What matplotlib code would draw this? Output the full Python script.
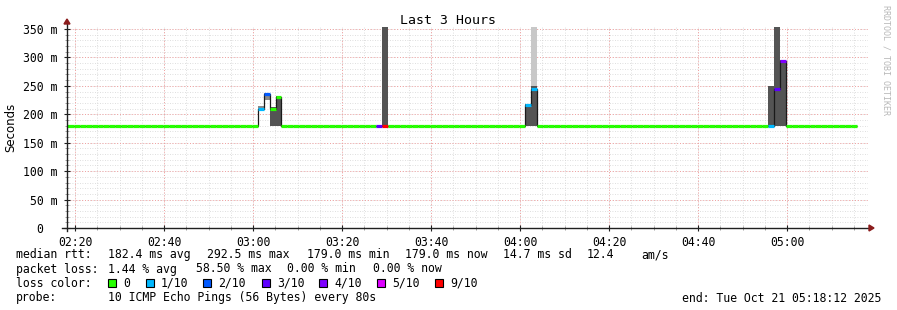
import matplotlib
matplotlib.use("Agg")
import matplotlib.pyplot as plt
from matplotlib.patches import Rectangle, Polygon
import numpy as np

W, H = 897, 310
STEP = 80 / 60.0  # one rrd step (80 s) in minutes
T0 = 0.2          # first step boundary, minutes after 02:18:12

# time axis: minutes after 02:18:12
tick_labels = ["02:20", "02:40", "03:00", "03:20", "03:40", "04:00", "04:20", "04:40", "05:00"]
tick_minutes = [1.8, 21.8, 41.8, 61.8, 81.8, 101.8, 121.8, 141.8, 161.8]

n_steps = 133
baseline_ms = 180.0

# steps where something happened (median rtt in ms, lost pings out of 10)
spike_steps = [32, 33, 34, 35, 52, 53, 77, 78, 118, 119, 120]
spike_median = [210, 235, 210, 231, 180, 180, 216, 245, 180, 245, 293]
spike_loss = [1, 2, 0, 0, 3, 9, 1, 1, 1, 3, 4]
# smoke (spread of the pings) per spike step
smoke_lo = [205, 225, 180, 180, 180, 180, 180, 180, 180, 180, 180]
smoke_hi = [214, 238, 212, 232, 180, 360, 218, 250, 250, 360, 296]
smoke_shade = [1, 1, 0, 0, 0, 0, 0, 0, 0, 0, 0]
# the few outlier pings drawn in light grey
outlier_steps = [78]
outlier_lo = [250]
outlier_hi = [360]

loss_names = ["0", "1/10", "2/10", "3/10", "4/10", "5/10", "9/10"]
loss_levels = [0, 1, 2, 3, 4, 5, 9]
loss_hex = ["#26ff00", "#00b8ff", "#0059ff", "#5e00ff", "#7e00ff", "#dd00ff", "#ff0000"]
loss_color = dict(zip(loss_levels, loss_hex))

median = np.full(n_steps, baseline_ms)
loss = np.zeros(n_steps, dtype=int)
median[spike_steps] = spike_median
loss[spike_steps] = spike_loss
edges = T0 + np.arange(n_steps + 1) * STEP
edges[0] = 0

MONO = "DejaVu Sans Mono"
FS = 8.3

fig = plt.figure(figsize=(W / 100, H / 100), dpi=100)
fig.patch.set_facecolor("white")

def fx(x):
    return x / W

def fy(y):
    return 1 - y / H

left, right, top, bottom = 67, 868, 27, 228
ax = fig.add_axes([fx(left), fy(bottom), (right - left) / W, (bottom - top) / H])
ax.set_xlim(0, 180)
ax.set_ylim(0, 353.5)

# grid
minor_x = np.arange(1.8, 180, 5)
for x in minor_x:
    ax.axvline(x, color="#d4d4d4", lw=0.6, ls=(0, (1, 2)), zorder=0)
for y in range(10, 360, 10):
    ax.axhline(y, color="#d4d4d4", lw=0.6, ls=(0, (1, 2)), zorder=0)
for x in tick_minutes:
    ax.axvline(x, color="#f2a0a0", lw=0.7, ls=(0, (1, 2)), zorder=0.5)
for y in range(50, 360, 50):
    ax.axhline(y, color="#f2a0a0", lw=0.7, ls=(0, (1, 2)), zorder=0.5)

# smoke
shade_col = ["#545454", "#8a8a8a"]
t_spike = T0 + np.array(spike_steps) * STEP
ax.bar(t_spike, np.array(smoke_hi) - np.array(smoke_lo), bottom=smoke_lo, width=STEP,
       align="edge", color=[shade_col[s] for s in smoke_shade], linewidth=0, zorder=2)
ax.bar(T0 + np.array(outlier_steps) * STEP, np.array(outlier_hi) - np.array(outlier_lo),
       bottom=outlier_lo, width=STEP, align="edge", color="#c8c8c8", linewidth=0, zorder=2)

# median line: thin black, then thick colored by loss
ax.stairs(median, edges, baseline=None, color="#1a1a1a", lw=0.9, zorder=3)
ax.hlines(median, edges[:-1], edges[1:], colors=[loss_color[l] for l in loss], lw=2.3, zorder=4)

# axes
for s in ax.spines.values():
    s.set_visible(False)
ax.plot([-0.006, 1.003], [0, 0], transform=ax.transAxes, color="#202020", lw=1, clip_on=False, zorder=5)
ax.plot([0, 0], [-0.015, 1.02], transform=ax.transAxes, color="#202020", lw=1, clip_on=False, zorder=5)
fig.add_artist(Polygon([[fx(64), fy(24)], [fx(70), fy(24)], [fx(67), fy(19)]], closed=True,
                       transform=fig.transFigure, color="#8b1c1c"))
fig.add_artist(Polygon([[fx(869), fy(225)], [fx(869), fy(231)], [fx(874), fy(228)]], closed=True,
                       transform=fig.transFigure, color="#8b1c1c"))

ax.set_xticks(tick_minutes)
ax.set_xticklabels(tick_labels, fontfamily=MONO, fontsize=FS)
ax.set_xticks(minor_x, minor=True)
yt = list(range(0, 351, 50))
ax.set_yticks(yt)
ax.set_yticklabels(["0  "] + [f"{v} m" for v in yt[1:]], fontfamily=MONO, fontsize=FS)
ax.set_yticks(range(10, 351, 10), minor=True)
ax.tick_params(axis="x", which="major", direction="inout", length=4, color="#202020", pad=4)
ax.tick_params(axis="y", which="major", direction="inout", length=4, color="#202020", pad=5)
ax.tick_params(which="minor", direction="inout", length=3, color="#909090")

fig.text(fx(11), fy(127), "Seconds", rotation=90, ha="center", va="center",
         fontsize=8.5, family="DejaVu Sans")
fig.text(fx(448), fy(20), "Last 3 Hours", ha="center", va="center", fontsize=9.5, family=MONO)
fig.text(fx(886), fy(5), "RRDTOOL / TOBI OETIKER", rotation=-90, ha="center", va="top",
         fontsize=6, family=MONO, color="#b8b8b8")

# legend block
def put(x, y, s, **kw):
    fig.text(fx(x), fy(y), s, ha=kw.pop("ha", "left"), va="baseline", fontsize=FS, family=MONO, **kw)

row1 = [(16, "median rtt:"), (108, "182.4 ms avg"), (207, "292.5 ms max"), (307, "179.0 ms min"),
        (405, "179.0 ms now"), (503, "14.7 ms sd"), (587, "12.4"), (641, "am/s")]
row2 = [(16, "packet loss:"), (108, "1.44 % avg"), (196, "58.50 % max"), (287, "0.00 % min"),
        (373, "0.00 % now")]
for x, s in row1:
    put(x, 258, s)
for x, s in row2:
    put(x, 272.5, s)

put(16, 287, "loss color:")
box_x = [108, 146, 203, 262, 319, 377, 435]
for bx, name, col in zip(box_x, loss_names, loss_hex):
    fig.add_artist(Rectangle((fx(bx), fy(286.5)), 8 / W, 8 / H, transform=fig.transFigure,
                             facecolor=col, edgecolor="black", lw=0.8))
    put(bx + 15, 287, name)

put(16, 301.5, "probe:")
put(108, 301.5, "10 ICMP Echo Pings (56 Bytes) every 80s")
put(881, 301.5, "end: Tue Oct 21 05:18:12 2025", ha="right")

fig.savefig("out.png", dpi=100, facecolor="white")
